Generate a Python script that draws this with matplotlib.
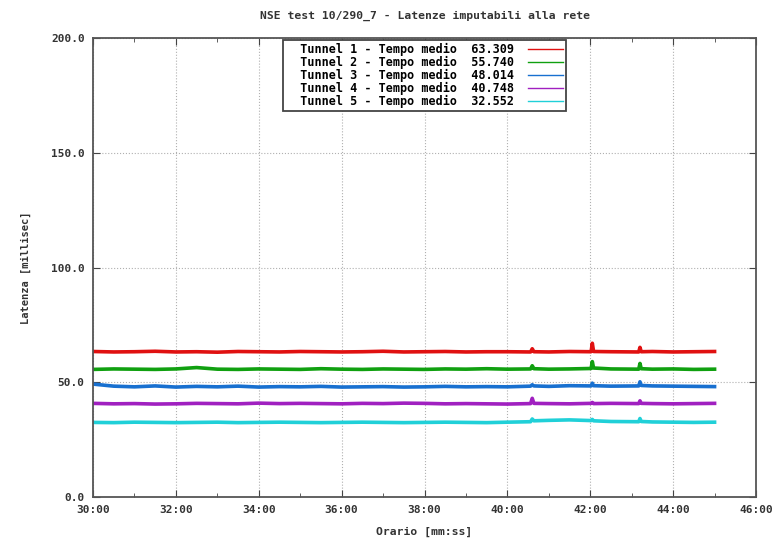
import matplotlib.pyplot as plt
from matplotlib.lines import Line2D
from matplotlib.ticker import MultipleLocator, FuncFormatter

# time in minutes (30:00 .. 45:00)
minutes = [30.0, 30.5, 31.0, 31.5, 32.0, 32.5, 33.0, 33.5, 34.0, 34.5,
           35.0, 35.5, 36.0, 36.5, 37.0, 37.5, 38.0, 38.5, 39.0, 39.5,
           40.0, 40.56, 40.6, 40.64, 41.0, 41.5, 42.02, 42.05, 42.08, 42.5,
           43.17, 43.2, 43.23, 43.5, 44.0, 44.5, 45.0]

tunnel1 = [63.4, 63.2, 63.3, 63.5, 63.2, 63.3, 63.1, 63.4, 63.3, 63.2,
           63.4, 63.3, 63.2, 63.3, 63.5, 63.2, 63.3, 63.4, 63.2, 63.3,
           63.3, 63.2, 64.6, 63.3, 63.2, 63.4, 63.3, 67.0, 63.4, 63.3,
           63.2, 65.2, 63.3, 63.4, 63.2, 63.3, 63.4]
tunnel2 = [55.6, 55.8, 55.7, 55.6, 55.8, 56.4, 55.7, 55.6, 55.8, 55.7,
           55.6, 55.9, 55.7, 55.6, 55.8, 55.7, 55.6, 55.8, 55.7, 55.9,
           55.7, 55.8, 57.2, 55.9, 55.7, 55.8, 56.0, 59.0, 56.2, 55.8,
           55.7, 58.2, 55.9, 55.7, 55.8, 55.6, 55.7]
tunnel3 = [49.2, 48.3, 48.0, 48.4, 47.9, 48.2, 48.0, 48.3, 47.9, 48.1,
           48.0, 48.2, 47.9, 48.0, 48.1, 47.9, 48.0, 48.2, 48.0, 48.1,
           48.0, 48.3, 48.9, 48.4, 48.2, 48.5, 48.4, 49.6, 48.5, 48.3,
           48.4, 50.2, 48.6, 48.4, 48.3, 48.2, 48.1]
tunnel4 = [40.8, 40.6, 40.7, 40.5, 40.6, 40.8, 40.7, 40.6, 40.9, 40.7,
           40.8, 40.7, 40.6, 40.8, 40.7, 40.9, 40.8, 40.6, 40.7, 40.6,
           40.5, 40.7, 43.0, 40.8, 40.7, 40.6, 40.8, 41.2, 40.7, 40.8,
           40.7, 41.9, 40.8, 40.7, 40.6, 40.7, 40.8]
tunnel5 = [32.5, 32.4, 32.6, 32.5, 32.4, 32.5, 32.6, 32.4, 32.5, 32.6,
           32.5, 32.4, 32.5, 32.6, 32.5, 32.4, 32.5, 32.6, 32.5, 32.4,
           32.6, 32.8, 34.0, 33.2, 33.4, 33.6, 33.3, 33.8, 33.2, 32.9,
           32.8, 34.2, 32.9, 32.7, 32.6, 32.5, 32.6]

series = [tunnel1, tunnel2, tunnel3, tunnel4, tunnel5]
medie = ['63.309', '55.740', '48.014', '40.748', '32.552']
colors = ['#e01010', '#10a010', '#1870d0', '#a020c0', '#20d0d8']

font = {'family': 'DejaVu Sans Mono', 'weight': 'bold', 'size': 8.2}
plt.rcParams['font.family'] = 'DejaVu Sans Mono'
plt.rcParams['font.weight'] = 'bold'

fig = plt.figure(figsize=(7.78, 5.42), dpi=100)
ax = fig.add_axes([93/778, 45/542, 663/778, 459/542])

for vals, c in zip(series, colors):
    ax.plot(minutes, vals, color=c, lw=2.6, solid_joinstyle='round')

ax.set_xlim(30, 46)
ax.set_ylim(0, 200)
ax.xaxis.set_major_locator(MultipleLocator(2))
ax.xaxis.set_minor_locator(MultipleLocator(1))
ax.yaxis.set_major_locator(MultipleLocator(50))
ax.xaxis.set_major_formatter(FuncFormatter(lambda v, p: '%d:00' % v))
ax.yaxis.set_major_formatter(FuncFormatter(lambda v, p: '%.1f' % v))
ax.tick_params(which='both', direction='in', top=True, right=True,
               colors='#444444', labelsize=8, labelcolor='#333333')
ax.tick_params(which='major', length=5, pad=6)
ax.tick_params(which='minor', length=3)
ax.grid(True, which='major', color='#b0b0b0', linestyle=':', lw=0.8)
for s in ax.spines.values():
    s.set_color('#555555')
    s.set_linewidth(1.3)

ax.set_title('NSE test 10/290_7 - Latenze imputabili alla rete',
             fontdict=font, color='#333333', pad=14)
ax.set_xlabel('Orario [mm:ss]', fontdict=font, color='#333333', labelpad=8)
ax.set_ylabel('Latenza [millisec]', fontdict=dict(font, size=7.5), color='#333333', labelpad=14)

handles = [Line2D([], [], color=c, lw=1.0) for c in colors]
labels = ['  Tunnel %d - Tempo medio  %s' % (i + 1, m) for i, m in enumerate(medie)]
leg = ax.legend(handles, labels, loc='upper center', bbox_to_anchor=(0.5, 0.996),
                borderaxespad=0, markerfirst=False, fancybox=False, framealpha=1,
                handlelength=2.9, handletextpad=1.2, borderpad=0.25, labelspacing=0.0,
                prop={'family': 'DejaVu Sans Mono', 'weight': 'bold', 'size': 8.5})
leg.get_frame().set_edgecolor('#444444')
leg.get_frame().set_linewidth(1.3)

fig.savefig('out.png', dpi=100)
